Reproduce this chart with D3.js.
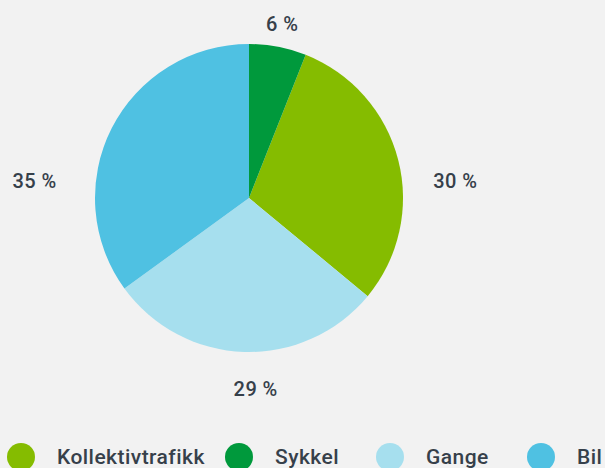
<!DOCTYPE html>
<html lang="no">
	<head>
		<meta charset="utf-8" />
		<title>Reisemiddel</title>
		<style>
			body { margin:0; background:#f2f2f2; }
			text { font-family: Roboto, "DejaVu Sans", sans-serif; font-weight:500; fill:#36404a; letter-spacing:0.45px; }
		</style>
	</head>
	<body>
		<script src="https://cdn.jsdelivr.net/npm/d3@7"></script>
		<script>
			// data
			var categories = ['Kollektivtrafikk','Sykkel','Gange','Bil'];
			var values = [30, 6, 29, 35];
			var colors = ['#85bc00','#00993c','#a6dfee','#4fc1e2'];
			var sliceOrder = ['Sykkel','Kollektivtrafikk','Gange','Bil'];

			// label tweaks (degrees / px) to sit like the original
			var labelNudge = [9.7, 0, -3.8, -22.5];
			var labelRadius = [207, 177, 191, 215];
			var legendX = [21, 239, 390, 541];

			var width = 605, height = 468;
			var cx = 249, cy = 198, r = 154;

			var svg = d3.select('body').append('svg')
				.attr('width', width)
				.attr('height', height);

			var items = categories.map(function(c, i) {
				return {name:c, value:values[i], color:colors[i], idx:i};
			});

			var pie = d3.pie()
				.value(function(d) { return d.value; })
				.sort(function(a, b) { return sliceOrder.indexOf(a.name) - sliceOrder.indexOf(b.name); });
			var arc = d3.arc().innerRadius(0).outerRadius(r);

			var g = svg.append('g').attr('transform', 'translate(' + cx + ',' + cy + ')');
			var arcs = pie(items);

			g.selectAll('path')
				.data(arcs)
				.enter().append('path')
				.attr('d', arc)
				.attr('fill', function(d) { return d.data.color; });

			// percent labels
			function labelAngle(d) {
				return (d.startAngle + d.endAngle) / 2 + labelNudge[d.data.idx] * Math.PI / 180;
			}
			g.selectAll('text.lbl')
				.data(arcs)
				.enter().append('text')
				.attr('class', 'lbl')
				.attr('x', function(d) { return Math.sin(labelAngle(d)) * labelRadius[d.data.idx]; })
				.attr('y', function(d) { return -Math.cos(labelAngle(d)) * labelRadius[d.data.idx]; })
				.attr('text-anchor', 'middle')
				.attr('dy', '0.35em')
				.style('font-size', '20px')
				.text(function(d) { return d.data.value + ' %'; });

			// legend
			var leg = svg.append('g').attr('transform', 'translate(0,457)');
			var li = leg.selectAll('g')
				.data(items)
				.enter().append('g')
				.attr('transform', function(d, i) { return 'translate(' + legendX[i] + ',0)'; });
			li.append('circle')
				.attr('r', 14)
				.attr('fill', function(d) { return d.color; });
			li.append('text')
				.attr('x', 36)
				.attr('dy', '0.35em')
				.style('font-size', '21px')
				.text(function(d) { return d.name; });
		</script>
	</body>
</html>
